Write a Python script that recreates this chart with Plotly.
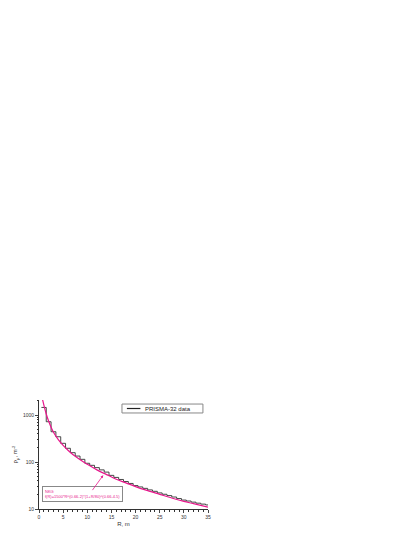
import plotly.graph_objects as go

# PRISMA-32 measured density, 1 m bins centred on integer R
bin_r = list(range(1, 36))
bin_rho = [1450, 720, 441, 345, 250, 196, 158, 134, 114, 94,
           85, 76, 68, 61, 52, 47, 42.5, 38.5, 35, 31.5,
           29.5, 27.5, 25.5, 23.8, 22, 20.6, 19.3, 18, 16.7, 15.5,
           14.8, 14, 13.3, 12.7, 12.2]

# NKG curve
nkg_r = [0.75, 1, 1.5, 2, 3, 4, 5, 6, 7, 8, 9, 10, 12, 14, 16, 18, 20, 22, 25, 28, 30, 32, 35]
nkg_rho = [2100, 1650, 1050, 740, 430, 300, 225, 178, 145, 122, 104, 90,
           68, 54, 43, 36, 30, 25.5, 20.5, 16.5, 14.5, 13, 11]

# step edges for the histogram
step_x = [r - 0.5 for r in bin_r] + [bin_r[-1] + 0.5]
step_y = bin_rho + [bin_rho[-1]]

MAG = "#e8168c"
fnt = "Liberation Sans, Arial, sans-serif"

fig = go.Figure()
fig.add_trace(go.Scatter(x=step_x, y=step_y, mode="lines", line=dict(color="#333333", width=0.9, shape="hv"),
                         showlegend=False))
fig.add_trace(go.Scatter(x=nkg_r, y=nkg_rho, mode="lines", line=dict(color=MAG, width=1.2, shape="spline"),
                         showlegend=False))

minor_y = [v * d for d in (10, 100, 1000) for v in range(2, 10) if v * d <= 2100]

# page body adds 8 px, so the margins are set 8 px short
fig.update_layout(
    width=417, height=540,
    margin=dict(l=31, r=217, t=392, b=39),
    paper_bgcolor="white", plot_bgcolor="white",
    font=dict(family=fnt, size=5, color="#333"),
    showlegend=False,
    xaxis=dict(range=[0, 35], tickvals=list(range(0, 36, 5)), ticks="outside", ticklen=3,
               showline=True, linecolor="#333", linewidth=1, showgrid=False, zeroline=False,
               automargin=False,
               minor=dict(tickvals=list(range(0, 36)), ticks="outside", ticklen=1.5, tickcolor="#333"),
               title=dict(text="R, m", font=dict(size=6), standoff=2)),
    yaxis=dict(type="log", range=[1, 3.32], tickvals=[10, 100, 1000], ticktext=["10", "100", "1000"],
               ticks="outside", ticklen=3, showline=True, linecolor="#333", linewidth=1,
               showgrid=False, zeroline=False, automargin=False,
               minor=dict(tickvals=minor_y, ticks="outside", ticklen=1.5, tickcolor="#333"),
               title=dict(text="ρ<sub>μ</sub>, m<sup>-2</sup>", font=dict(size=6), standoff=4)),
)

# legend drawn by hand so it stays small
fig.add_shape(type="rect", xref="paper", yref="paper", x0=0.491, x1=0.97, y0=0.881, y1=0.963,
              line=dict(color="#888", width=1), fillcolor="white")
fig.add_shape(type="line", xref="paper", yref="paper", x0=0.52, x1=0.60, y0=0.922, y1=0.922,
              line=dict(color="#222", width=1.2))
fig.add_annotation(x=0.615, y=0.922, xref="paper", yref="paper", xanchor="left", yanchor="middle",
                   text="PRISMA-32 data", showarrow=False, font=dict(size=6, color="#222"))

fig.add_annotation(x=0.018, y=0.064, xref="paper", yref="paper", xanchor="left", yanchor="bottom",
                   text="NKG<br>f(R)=1500*R^(0.66-2)*(1+R/80)^(0.66-4.5)", align="left",
                   showarrow=False, font=dict(size=4, color=MAG),
                   bordercolor="#888", borderwidth=1, borderpad=2, bgcolor="white")
fig.add_annotation(x=13.3, y=1.72, ax=10.85, ay=1.37, xref="x", yref="y", axref="x", ayref="y",
                   text="", showarrow=True, arrowhead=2, arrowsize=0.7, arrowwidth=0.8, arrowcolor=MAG)

fig.write_html("out.html")
